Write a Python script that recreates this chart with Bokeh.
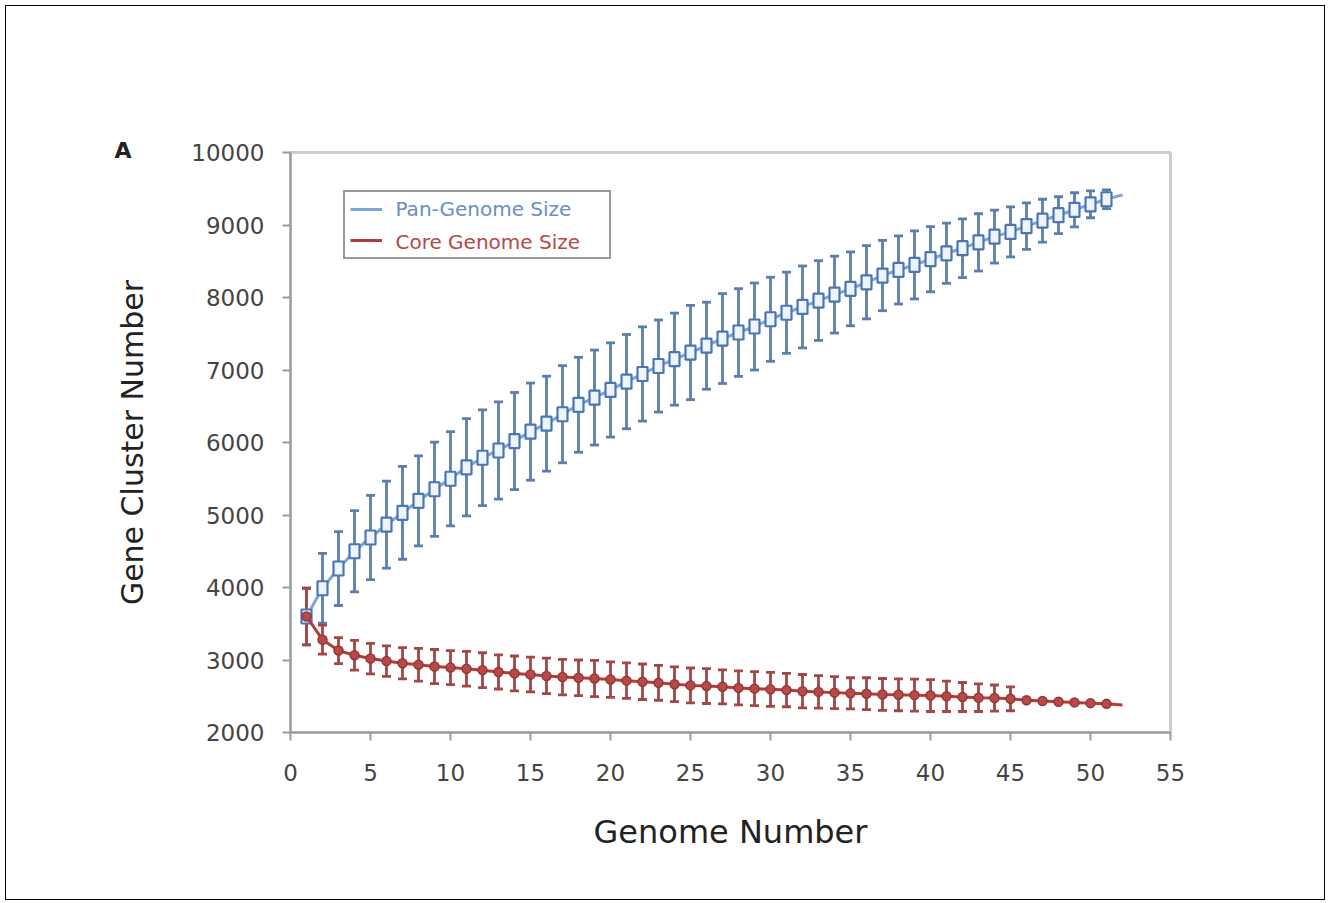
from bokeh.plotting import figure
from bokeh.models import (Range1d, Whisker, TeeHead, ColumnDataSource, Legend,
                          LegendItem, Label, FixedTicker)
from bokeh.embed import file_html
from bokeh.resources import INLINE

genome = list(range(1, 53))
pan_mean = [3600, 3990, 4262, 4500, 4690, 4866, 5030, 5195, 5355, 5500,
            5658, 5790, 5890, 6020, 6150, 6260, 6390, 6520, 6620, 6725,
            6840, 6945, 7055, 7150, 7241, 7335, 7434, 7517, 7600, 7700,
            7790, 7870, 7958, 8040, 8120, 8210, 8303, 8380, 8450, 8528,
            8610, 8680, 8760, 8840, 8905, 8985, 9060, 9135, 9210, 9285,
            9355, 9415]
pan_err = [390, 480, 510, 560, 580, 600, 640, 620, 650, 650,
           670, 660, 670, 670, 670, 655, 670, 655, 655, 650,
           650, 650, 635, 635, 650, 600, 620, 605, 600, 580,
           560, 565, 550, 530, 510, 505, 485, 470, 470, 450,
           415, 405, 395, 365, 345, 320, 295, 255, 235, 185,
           130, 0]
core_mean = [3600, 3280, 3130, 3065, 3020, 2985, 2955, 2935, 2910, 2895,
             2880, 2860, 2835, 2815, 2800, 2780, 2765, 2755, 2745, 2730,
             2715, 2700, 2685, 2665, 2650, 2640, 2630, 2615, 2605, 2595,
             2585, 2570, 2560, 2550, 2540, 2535, 2525, 2520, 2515, 2510,
             2500, 2490, 2480, 2475, 2465, 2445, 2435, 2425, 2415, 2405,
             2395, 2380]
core_err = [390, 200, 180, 205, 210, 210, 215, 225, 235, 235,
            240, 240, 235, 240, 240, 245, 245, 245, 250, 245,
            245, 245, 240, 240, 240, 240, 235, 235, 235, 235,
            230, 230, 225, 220, 215, 220, 220, 220, 220, 220,
            210, 200, 190, 180, 165, 0, 0, 0, 0, 0,
            0, 0]
x_ticks = [0, 5, 10, 15, 20, 25, 30, 35, 40, 45, 50, 55]
y_ticks = [2000, 3000, 4000, 5000, 6000, 7000, 8000, 9000, 10000]
series_names = ["Pan-Genome Size", "Core Genome Size"]
panel_tag = "A"

FONT = "DejaVu Sans"
PAN_LINE = "#7aa4da"
PAN_DARK = "#4a76b2"
PAN_BAR = "#5a7fae"
CORE_LINE = "#b03c3c"
CORE_DARK = "#9c3434"
CORE_BAR = "#a34646"

p = figure(width=1318, height=893, output_backend="svg", toolbar_location=None,
           x_range=Range1d(0, 55), y_range=Range1d(2000, 10000),
           min_border_left=284, min_border_right=154,
           min_border_top=146, min_border_bottom=167, title=panel_tag)
p.styles = {"outline": "1px solid black", "outline-offset": "0px",
            "margin": "6px"}
p.title.align = "left"
p.title.offset = -176
p.title.standoff = -21
p.title.text_font = FONT
p.title.text_font_size = "22px"
p.title.text_font_style = "bold"
p.title.text_color = "#222222"

p.grid.visible = False
p.outline_line_color = "#cccccc"
p.outline_line_width = 3

p.xaxis.ticker = FixedTicker(ticks=x_ticks)
p.yaxis.ticker = FixedTicker(ticks=y_ticks)
p.axis.minor_tick_line_color = None
p.axis.major_tick_out = 8
p.axis.major_tick_in = 0
p.axis.axis_line_color = "#999999"
p.axis.axis_line_width = 2
p.axis.major_tick_line_color = "#999999"
p.axis.major_tick_line_width = 2
p.axis.major_label_text_font = FONT
p.axis.major_label_text_font_size = "23px"
p.axis.major_label_text_color = "#444444"
p.yaxis.major_label_standoff = 18
p.xaxis.major_label_standoff = 23
p.xaxis.axis_label = "Genome Number"
p.yaxis.axis_label = "Gene Cluster Number"
p.axis.axis_label_text_font = FONT
p.axis.axis_label_text_font_style = "normal"
p.axis.axis_label_text_color = "#222222"
p.xaxis.axis_label_text_font_size = "32px"
p.yaxis.axis_label_text_font_size = "30px"
p.xaxis.axis_label_standoff = 29
p.yaxis.axis_label_standoff = 38


def whisker(mean, err, color):
    xs = [g for g, e in zip(genome, err) if e > 0]
    lo = [m - e for m, e in zip(mean, err) if e > 0]
    hi = [m + e for m, e in zip(mean, err) if e > 0]
    src = ColumnDataSource(data=dict(x=xs, lower=lo, upper=hi))
    w = Whisker(source=src, base="x", lower="lower", upper="upper",
                line_color=color, line_width=2.8, level="underlay",
                upper_head=TeeHead(size=9, line_color=color, line_width=2.8),
                lower_head=TeeHead(size=9, line_color=color, line_width=2.8))
    p.add_layout(w)


whisker(pan_mean, pan_err, PAN_BAR)
whisker(core_mean, core_err, CORE_BAR)

pan_line = p.line(genome, pan_mean, line_color=PAN_LINE, line_width=3)
p.rect(genome[:51], pan_mean[:51], width=10, height=14, width_units="screen",
       height_units="screen", fill_color="#eef4fb", line_color=PAN_DARK,
       line_width=2.2)
core_line = p.line(genome, core_mean, line_color=CORE_LINE, line_width=3)
p.scatter(genome[:51], core_mean[:51], marker="circle", size=9,
          fill_color="#b44a4a", line_color=CORE_DARK, line_width=1.5)

legend = Legend(items=[LegendItem(label=series_names[0], renderers=[pan_line]),
                       LegendItem(label=series_names[1], renderers=[core_line])],
                location=(53, 473), border_line_color="#333333",
                border_line_width=2.5, background_fill_color="white",
                background_fill_alpha=0, padding=5, spacing=7, margin=0,
                glyph_width=32, glyph_height=24, label_height=24,
                label_width=209, label_standoff=13,
                label_text_font=FONT, label_text_font_size="20px",
                label_text_alpha=0)
p.add_layout(legend, "center")

p.add_layout(Label(x=6.56, y=9214, text=series_names[0], text_color="#6a8cc6",
                   text_font=FONT, text_font_size="20px",
                   text_baseline="middle"))
p.add_layout(Label(x=6.56, y=8759, text=series_names[1], text_color="#b54848",
                   text_font=FONT, text_font_size="20px",
                   text_baseline="middle"))

open("out.html", "w").write(file_html(p, INLINE))
